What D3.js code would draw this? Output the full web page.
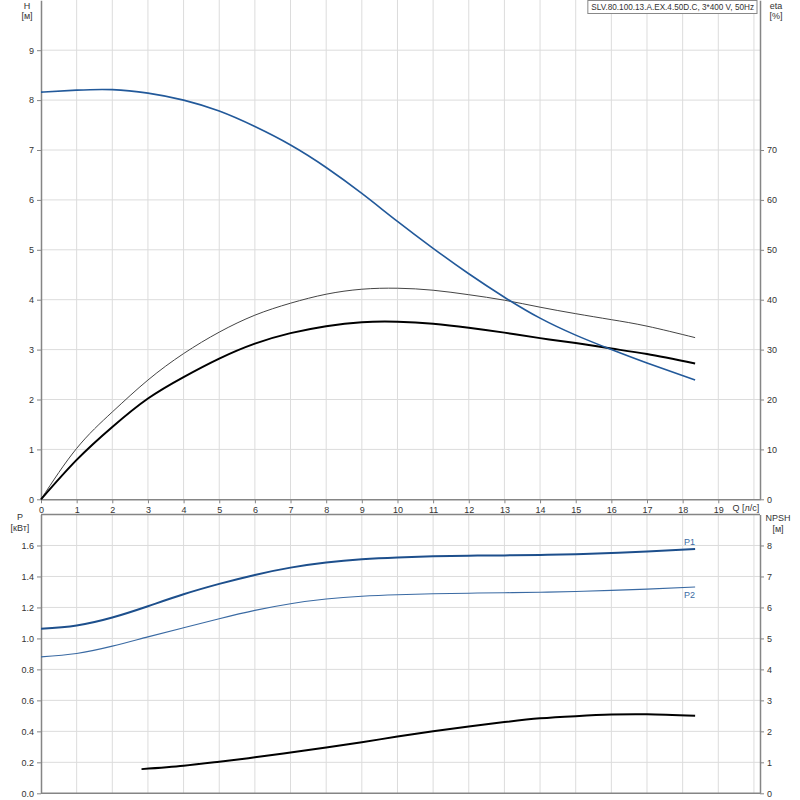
<!DOCTYPE html>
<html>
<head>
<meta charset="utf-8">
<script src="https://cdn.jsdelivr.net/npm/d3@7"></script>
<style>
  body { margin: 0; background: #fff; }
  svg { display: block; font-family: "Liberation Sans", Arial, sans-serif; }
</style>
</head>
<body>
<div id="chart"></div>
<script>
// Pump curves: SLV.80.100.13.A.EX.4.50D.C
const title = "SLV.80.100.13.A.EX.4.50D.C, 3*400 V, 50Hz";

// flow points, l/s
const q = [0, 1, 2, 3, 4, 5, 6, 7, 8, 9, 10, 11, 12, 13, 14, 15, 16, 17, 18.35];
const head = [8.16, 8.2, 8.21, 8.14, 8.0, 7.78, 7.47, 7.1, 6.65, 6.13, 5.57, 5.03, 4.52, 4.05, 3.63, 3.29, 3.0, 2.73, 2.39];
const etaPump = [0, 10.2, 17.5, 23.9, 29.2, 33.5, 36.9, 39.3, 41.1, 42.1, 42.3, 41.9, 41.0, 39.9, 38.5, 37.2, 36.0, 34.7, 32.4];
const etaTotal = [0, 7.9, 14.5, 20.2, 24.5, 28.2, 31.2, 33.3, 34.7, 35.5, 35.6, 35.2, 34.4, 33.4, 32.3, 31.3, 30.2, 29.1, 27.2];
const p1 = [1.062, 1.084, 1.135, 1.208, 1.285, 1.352, 1.410, 1.457, 1.490, 1.511, 1.523, 1.530, 1.534, 1.536, 1.539, 1.544, 1.551, 1.561, 1.577];
const p2 = [0.881, 0.903, 0.950, 1.010, 1.069, 1.127, 1.181, 1.224, 1.254, 1.272, 1.282, 1.288, 1.292, 1.295, 1.298, 1.303, 1.310, 1.318, 1.332];
const qNpsh = [2.82, 4, 5, 6, 7, 8, 9, 10, 11, 12, 13, 14, 15, 16, 17, 18.35];
const npsh = [0.78, 0.89, 1.02, 1.16, 1.32, 1.48, 1.65, 1.83, 2.0, 2.16, 2.3, 2.42, 2.49, 2.54, 2.55, 2.5];

const qTicks = d3.range(0, 20);        // labelled 0..19
const qGrid = d3.range(1, 21);
const hTicks = d3.range(0, 10);
const etaTicks = d3.range(0, 80, 10);
const pTicks = [0, 0.2, 0.4, 0.6, 0.8, 1.0, 1.2, 1.4, 1.6];
const npshTicks = d3.range(0, 9);

const width = 800, height = 800;
const left = 41, right = 760;

const x = d3.scaleLinear().domain([0, 20.17]).range([left, right]);
const yH = d3.scaleLinear().domain([0, 10]).range([499.3, 0.3]);
const yEta = d3.scaleLinear().domain([0, 100]).range([499.3, 0.3]);
const yP = d3.scaleLinear().domain([0, 1.8]).range([793.3, 514.5]);
const yN = d3.scaleLinear().domain([0, 9]).range([793.3, 514.5]);

const svg = d3.select("#chart").append("svg")
    .attr("width", width)
    .attr("height", height);

const gridColor = "#dcdcdc";
const axisColor = "#858585";
const textColor = "#333";
const blue = "#22599a";

// grids
function grid(g, yScale, yVals, y0, y1) {
    g.selectAll(".vg").data(qGrid).enter().append("line")
        .attr("x1", d => x(d)).attr("x2", d => x(d))
        .attr("y1", y0).attr("y2", y1)
        .attr("stroke", gridColor).attr("stroke-width", 1);
    g.selectAll(".hg").data(yVals).enter().append("line")
        .attr("x1", left).attr("x2", right)
        .attr("y1", d => yScale(d)).attr("y2", d => yScale(d))
        .attr("stroke", gridColor).attr("stroke-width", 1);
}

const gTop = svg.append("g");
grid(gTop, yH, d3.range(1, 10), 0, yH(0));
const gBot = svg.append("g");
grid(gBot, yP, pTicks.slice(1), yP(1.8), yP(0));

// axes
function styleAxis(g) {
    g.select(".domain").attr("stroke", axisColor).attr("stroke-width", 1.5);
    g.selectAll(".tick line").attr("stroke", axisColor);
    g.selectAll(".tick text").attr("fill", textColor).style("font-size", "9px");
}

svg.append("g")
    .attr("transform", `translate(${left},0)`)
    .call(d3.axisLeft(yH).tickValues(hTicks).tickSize(4).tickSizeOuter(0).tickFormat(d3.format("d")))
    .call(styleAxis);

svg.append("g")
    .attr("transform", `translate(${right},0)`)
    .call(d3.axisRight(yEta).tickValues(etaTicks).tickSize(4).tickSizeOuter(0).tickFormat(d3.format("d")))
    .call(styleAxis);

svg.append("g")
    .attr("transform", `translate(0,${yH(0)})`)
    .call(d3.axisBottom(x).tickValues(qTicks).tickSize(4).tickSizeOuter(0).tickFormat(d3.format("d")))
    .call(styleAxis);

svg.append("g")
    .attr("transform", `translate(${left},0)`)
    .call(d3.axisLeft(yP).tickValues(pTicks).tickSize(4).tickSizeOuter(0).tickFormat(d3.format(".1f")))
    .call(styleAxis);

svg.append("g")
    .attr("transform", `translate(${right},0)`)
    .call(d3.axisRight(yN).tickValues(npshTicks).tickSize(4).tickSizeOuter(0).tickFormat(d3.format("d")))
    .call(styleAxis);

// bottom plot frame (top and bottom edges)
svg.append("line").attr("x1", left).attr("x2", right).attr("y1", yP(1.8)).attr("y2", yP(1.8))
    .attr("stroke", axisColor).attr("stroke-width", 1.5);
svg.append("line").attr("x1", left).attr("x2", right).attr("y1", yP(0)).attr("y2", yP(0))
    .attr("stroke", axisColor).attr("stroke-width", 1.5);

// axis titles
function label(tx, ty, t, anchor) {
    svg.append("text").attr("x", tx).attr("y", ty)
        .attr("text-anchor", anchor || "middle")
        .attr("fill", textColor).style("font-size", "9px").text(t);
}
label(27, 9, "H");
label(27, 19, "[м]");
label(776, 9, "eta");
label(776, 19, "[%]");
label(746, 511, "Q [л/с]");
label(20, 520, "P");
label(20, 531, "[кВт]");
label(778, 521, "NPSH");
label(778, 532, "[м]");

// title box, right edge at x=757
const tb = svg.append("g");
const tt = tb.append("text").attr("x", 754).attr("y", 10)
    .attr("text-anchor", "end")
    .attr("fill", textColor).style("font-size", "8.2px").text(title);
const bb = tt.node().getBBox();
tb.insert("rect", "text")
    .attr("x", bb.x - 3.5).attr("y", 0.5)
    .attr("width", bb.width + 6.5).attr("height", 13)
    .attr("fill", "#fff").attr("stroke", "#888").attr("stroke-width", 1);

// curves
function curve(xs, ys, yScale, color, w) {
    const pts = xs.map((d, i) => [d, ys[i]]);
    svg.append("path")
        .datum(pts)
        .attr("fill", "none")
        .attr("stroke", color)
        .attr("stroke-width", w)
        .attr("d", d3.line()
            .x(d => x(d[0]))
            .y(d => yScale(d[1]))
            .curve(d3.curveNatural));
}

curve(q, etaPump, yEta, "#444", 1);
curve(q, etaTotal, yEta, "#000", 2);
curve(q, head, yH, blue, 1.6);
curve(q, p1, yP, "#1d4f8c", 2);
curve(q, p2, yP, "#3a6aa3", 1.1);
curve(qNpsh, npsh, yN, "#000", 2);

// P1 / P2 labels
svg.append("text").attr("x", x(18.35)).attr("y", yP(1.577) - 4)
    .attr("text-anchor", "end").attr("fill", "#3a6aa3").style("font-size", "9px").text("P1");
svg.append("text").attr("x", x(18.35)).attr("y", yP(1.332) + 11)
    .attr("text-anchor", "end").attr("fill", "#3a6aa3").style("font-size", "9px").text("P2");
</script>
</body>
</html>
